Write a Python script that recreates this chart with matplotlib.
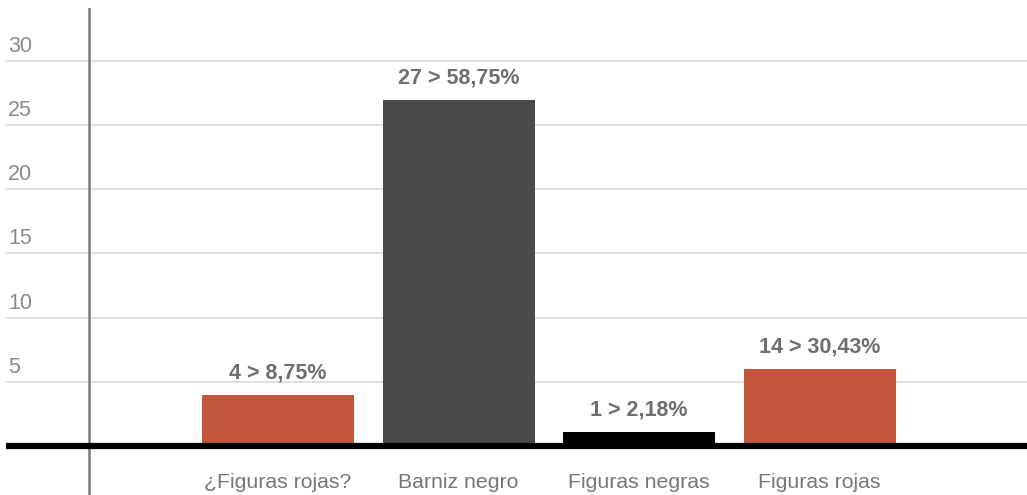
import matplotlib
matplotlib.use("Agg")
import matplotlib.pyplot as plt

# ---- data -----------------------------------------------------------------
categories = ["¿Figuras rojas?", "Barniz negro", "Figuras negras", "Figuras rojas"]
values = [4, 26.9, 1.1, 6]
bar_labels = ["4 > 8,75%", "27 > 58,75%", "1 > 2,18%", "14 > 30,43%"]
bar_colors = ["#C2573D", "#4A4A49", "#000000", "#C2573D"]
y_ticks = [5, 10, 15, 20, 25, 30]

plt.rcParams["font.family"] = ["Liberation Sans", "DejaVu Sans"]

W, H = 1027, 495
fig = plt.figure(figsize=(W / 100, H / 100), dpi=100)
ax = fig.add_axes([6 / W, 0, (W - 6) / W, 487 / H])

# pixel mapping: bar centres at 278 + 180.5*i, baseline at y=446, 12.85 px/unit
step = 180.5
x0 = 278
ax.set_xlim((6 - x0) / step, (W - x0) / step)
ax.set_ylim(-(H - 446) / 12.85, 438 / 12.85)

xs = list(range(len(categories)))
ax.bar(xs, values, width=152 / step, color=bar_colors, zorder=3)

for t in y_ticks:
    ax.axhline(t, color="#d9d9d9", linewidth=1.2, zorder=1)
    ax.text(0.002, t + 0.3, str(t), transform=ax.get_yaxis_transform(),
            ha="left", va="bottom", fontsize=15.5, color="#8a8a8a")

ax.axhline(0, color="black", linewidth=4.5, zorder=4)
ax.axvline((89 - x0) / step, color="#7a7a7a", linewidth=1.8, zorder=2)

for x, v, lab in zip(xs, values, bar_labels):
    ax.text(x, v + 0.9, lab, ha="center", va="bottom", fontsize=15.5,
            fontweight="bold", color="#6f6f6f", zorder=5)

for x, cat in zip(xs, categories):
    ax.text(x, -2.85, cat, ha="center", va="center", fontsize=15.3,
            color="#777777")

ax.set_axis_off()
fig.savefig("out.png", dpi=100)
